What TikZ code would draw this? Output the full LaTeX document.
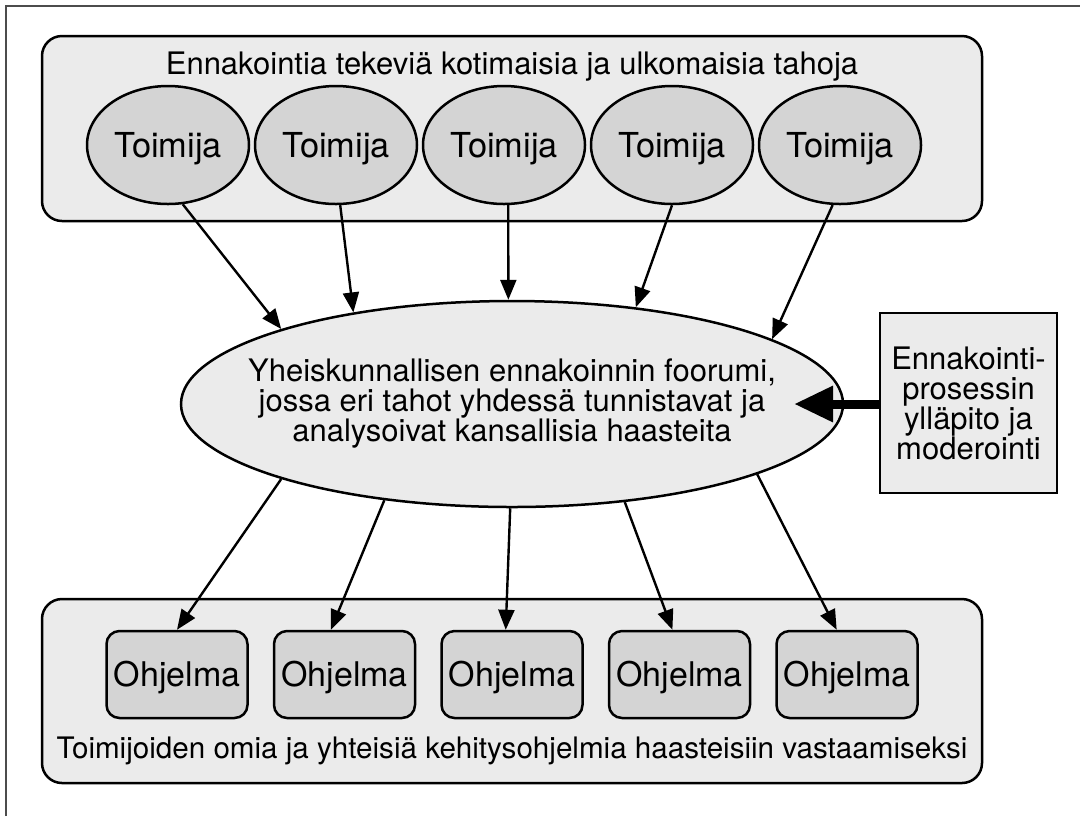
\documentclass[tikz,border=0pt]{standalone}
\usepackage{fontspec}
\setmainfont{TeX Gyre Heros}
\usetikzlibrary{shapes.geometric,arrows.meta}
\definecolor{panel}{gray}{0.92}
\definecolor{cell}{gray}{0.83}

\begin{document}
\begin{tikzpicture}[x=0.5pt,y=-0.5pt,
    every node/.style={font=\fontsize{15.5}{15}\selectfont},
    group/.style={draw,line width=1.25pt,fill=panel,rounded corners=10pt},
    actor/.style={ellipse,draw,line width=1.25pt,fill=cell,minimum width=81pt,minimum height=59pt,inner sep=0pt,
      font=\fontsize{17.2}{17}\selectfont,text height=12.3pt,text depth=0pt},
    program/.style={rectangle,draw,line width=1.25pt,fill=cell,rounded corners=6.5pt,minimum width=70.5pt,minimum height=43.5pt,inner sep=0pt,
      font=\fontsize{17}{17}\selectfont,text height=12.2pt,text depth=0pt},
    link/.style={-{Triangle[length=10pt,width=8pt]},line width=1.2pt}]
      \useasboundingbox (0,0) rectangle (1080,816);
      \draw[black!70,line width=0.7pt] (6,816) -- (6,6) -- (1080,6);

      \draw[group] (42,36) rectangle (982,221);
      \draw[group] (42,599) rectangle (982,783);
      \node[anchor=base] (topcap) at (512,74) {Ennakointia tekeviä kotimaisia ja ulkomaisia tahoja};
      \node[anchor=base,font=\fontsize{14.8}{15}\selectfont] (botcap) at (512,758) {Toimijoiden omia ja yhteisiä kehitysohjelmia haasteisiin vastaamiseksi};

      \node[actor] (t1) at (168,145) {Toimija};
      \node[actor] (t2) at (336,145) {Toimija};
      \node[actor] (t3) at (504,145) {Toimija};
      \node[actor] (t4) at (672,145) {Toimija};
      \node[actor] (t5) at (840,145) {Toimija};

      \node[ellipse,draw,line width=1.25pt,fill=panel,minimum width=331pt,minimum height=103pt,inner sep=0pt] (forum) at (512,404) {};
      \node[align=center] (forumtext) at (forum.center)
        {Yheiskunnallisen ennakoinnin foorumi,\\jossa eri tahot yhdessä tunnistavat ja\\analysoivat kansallisia haasteita};
      \node[draw,line width=1.25pt,fill=panel,minimum width=88.5pt,minimum height=90pt,inner sep=0pt,align=center] (ctrl) at (968.5,403)
        {Ennakointi-\\prosessin\\ylläpito ja\\moderointi};
      \coordinate (hub) at (794,404);

      \node[program] (p1) at (177,674.5) {Ohjelma};
      \node[program] (p2) at (344.5,674.5) {Ohjelma};
      \node[program] (p3) at (512,674.5) {Ohjelma};
      \node[program] (p4) at (679.5,674.5) {Ohjelma};
      \node[program] (p5) at (847,674.5) {Ohjelma};

      \draw[link] (t1.-76) -- (forum.162.8);
      \draw[link] (t2.-86) -- (forum.150.1);
      \draw[link] (t3.-86) -- (forum.92.3);
      \draw[link] (t4.-90) -- (forum.38.2);
      \draw[link] (t5.-97) -- (forum.14.3);

      \draw[link] (forum.198.8) -- (p1.north);
      \draw[link] (forum.217.7) -- (p2.107);
      \draw[link] (forum.269) -- (p3.98);
      \draw[link] (forum.319.8) -- (p4.99);
      \draw[link] (forum.-16) -- (p5.103);

      \draw[-{Triangle[length=19.5pt,width=17pt]},line width=4.5pt] (ctrl.west |- hub) -- (hub);
\end{tikzpicture}
\end{document}
